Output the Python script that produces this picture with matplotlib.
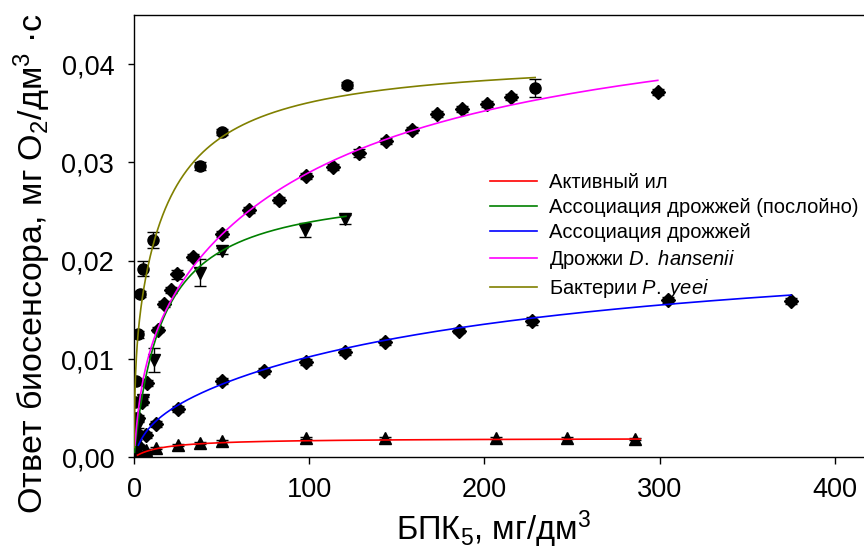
import numpy as np
import matplotlib
matplotlib.use("Agg")
import matplotlib.pyplot as plt
from matplotlib.ticker import FuncFormatter

plt.rcParams['font.family'] = ['Liberation Sans', 'DejaVu Sans']
plt.rcParams['mathtext.fontset'] = 'custom'
plt.rcParams['mathtext.rm'] = 'Liberation Sans'
plt.rcParams['mathtext.it'] = 'Liberation Sans:italic'

# measured points: BOD5 (mg/dm3) vs biosensor response
x_il = [2.0, 7.0, 12.4, 25.1, 37.6, 50.0, 97.9, 143.0, 206.8, 247.0, 285.8]
y_il = [0.0004, 0.0007, 0.0009, 0.0013, 0.0015, 0.0017, 0.0020, 0.0020, 0.0020, 0.0020, 0.0019]
e_il = [0.0001, 0.0001, 0.0001, 0.0001, 0.0001, 0.0001, 0.0001, 0.0001, 0.0001, 0.0001, 0.0001]

x_pl = [0.3, 1.0, 2.5, 5.0, 11.6, 37.7, 50.0, 97.6, 120.4]
y_pl = [0.0006, 0.0016, 0.0033, 0.0058, 0.0099, 0.0188, 0.0210, 0.0231, 0.0242]
e_pl = [0.0002, 0.0002, 0.0003, 0.0003, 0.0012, 0.0014, 0.0003, 0.0007, 0.0005]

x_as = [2.5, 6.8, 12.4, 25.1, 50.0, 74.3, 97.9, 120.7, 143.0, 185.6, 227.4, 304.8, 375.2]
y_as = [0.0012, 0.0023, 0.0034, 0.0049, 0.0078, 0.0088, 0.0097, 0.0107, 0.0117, 0.0129, 0.0139, 0.0160, 0.0159]
e_as = [0.0002, 0.0003, 0.0003, 0.0003, 0.0003, 0.0003, 0.0003, 0.0003, 0.0003, 0.0003, 0.0004, 0.0003, 0.0003]

x_dh = [0.3, 0.6, 1.2, 2.5, 4.4, 7.2, 13.5, 17.3, 20.9, 24.4, 33.9, 50.0, 65.6, 82.8,
        98.2, 113.8, 128.6, 143.8, 158.7, 172.8, 187.0, 201.3, 215.0, 299.0]
y_dh = [0.0008, 0.0015, 0.0026, 0.0040, 0.0056, 0.0076, 0.0130, 0.0156, 0.0170, 0.0186, 0.0204, 0.0227, 0.0252, 0.0262,
        0.0286, 0.0295, 0.0310, 0.0322, 0.0333, 0.0349, 0.0354, 0.0359, 0.0367, 0.0372]
e_dh = [0.0002, 0.0002, 0.0002, 0.0003, 0.0003, 0.0003, 0.0003, 0.0003, 0.0003, 0.0005, 0.0003, 0.0003, 0.0003, 0.0003,
        0.0003, 0.0003, 0.0004, 0.0003, 0.0003, 0.0003, 0.0003, 0.0003, 0.0003, 0.0003]

x_py = [0.1, 0.25, 0.5, 0.8, 1.1, 2.1, 3.4, 5.0, 10.7, 37.5, 50.0, 121.4, 228.9]
y_py = [0.0015, 0.0027, 0.0040, 0.0056, 0.0078, 0.0125, 0.0166, 0.0192, 0.0221, 0.0296, 0.0331, 0.0379, 0.0376]
e_py = [0.0002, 0.0002, 0.0003, 0.0003, 0.0003, 0.0004, 0.0003, 0.0008, 0.0008, 0.0004, 0.0003, 0.0003, 0.0009]

fit_il = [(0.00196, 15.9)]
fit_pl = [(0.0278, 16.2)]
fit_as = [(0.0042, 8.0), (0.019, 200.0)]
fit_dh = [(0.013, 5.5), (0.035, 110.0)]
fit_py = [(0.012, 0.6), (0.029, 20.0)]
range_il = (2.0, 289.0)
range_pl = (0.3, 121.0)
range_as = (2.5, 375.0)
range_dh = (0.5, 299.0)
range_py = (0.05, 229.0)

labels = ['Активный ил', 'Ассоциация дрожжей (послойно)', 'Ассоциация дрожжей',
          r'Дрожжи $\mathit{D.}$ $\mathit{hansenii}$', r'Бактерии $\mathit{P.}$ $\mathit{yeei}$']
colors = ['#ff0000', '#008000', '#0000ff', '#ff00ff', '#808000']
markers = ['^', 'v', 'D', 'D', 'o']


def hyperbola(x, params):
    return sum(v * x / (k + x) for v, k in params)


fig = plt.figure(figsize=(8.64, 5.49), dpi=100)
ax = fig.add_axes([134 / 864, (549 - 457.3) / 549, (864 - 134) / 864, (457.3 - 15) / 549])

series = [
    (x_il, y_il, e_il, fit_il, range_il),
    (x_pl, y_pl, e_pl, fit_pl, range_pl),
    (x_as, y_as, e_as, fit_as, range_as),
    (x_dh, y_dh, e_dh, fit_dh, range_dh),
    (x_py, y_py, e_py, fit_py, range_py),
]

for (xs, ys, es, fit, rng), c, m, lab in zip(series, colors, markers, labels):
    ax.errorbar(xs, ys, yerr=es, fmt=m, color='black', ms=8 if m != 'D' else 7.5,
                capsize=4.5, elinewidth=1.0, capthick=1.0, zorder=2)
    xc = np.geomspace(rng[0], rng[1], 500)
    ax.plot(xc, hyperbola(xc, fit), color=c, lw=1.2, label=lab, zorder=3)

ax.set_xlim(0, 416.7)
ax.set_ylim(0, 0.045)
ax.set_xticks([0, 100, 200, 300, 400])
ax.set_yticks([0, 0.01, 0.02, 0.03, 0.04])
ax.yaxis.set_major_formatter(FuncFormatter(lambda v, p: f'{v:.2f}'.replace('.', ',')))
ax.spines['right'].set_visible(False)
for s in ['left', 'bottom', 'top']:
    ax.spines[s].set_linewidth(1.0)
ax.tick_params(axis='both', direction='out', width=1.0, labelsize=19.5)
ax.tick_params(axis='x', length=5, pad=9)
ax.tick_params(axis='y', length=4.5, pad=9.8)
ax.tick_params(top=False, right=False)

fig.text(493 / 864, 1 - 540 / 549, 'БПК$_5$, мг/дм$^3$', ha='center', va='baseline', fontsize=23.5)
fig.text(32 / 864, 1 - 264 / 549, 'Ответ биосенсора, мг O$_2$/дм$^3$ ·с', rotation=90,
         ha='center', va='center', fontsize=24.5)

ax.legend(loc='upper left', bbox_to_anchor=((490 - 134) / 730, (457.3 - 173) / 442.3),
          frameon=False, fontsize=14.5, handlelength=2.35, handletextpad=0.6,
          labelspacing=0.3, borderpad=0, borderaxespad=0)

fig.savefig('out.png', dpi=100)
